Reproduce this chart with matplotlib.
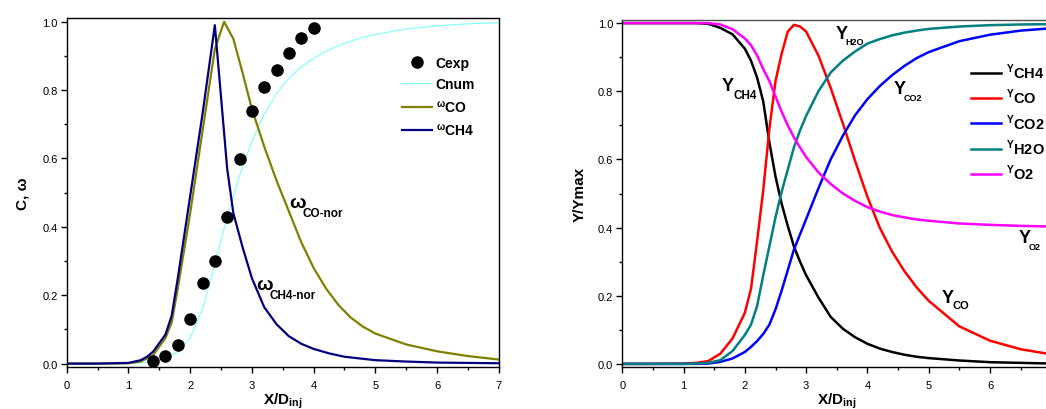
import matplotlib
matplotlib.use("Agg")
import matplotlib.pyplot as plt
from matplotlib.ticker import MultipleLocator, FormatStrFormatter

plt.rcParams['font.family'] = ['Liberation Sans', 'DejaVu Sans']

# ---- left panel: progress variable and normalised rates ----
x_cexp = [1.4, 1.6, 1.8, 2.0, 2.2, 2.4, 2.6, 2.8, 3.0, 3.2, 3.4, 3.6, 3.8, 4.0]
c_exp = [0.007, 0.022, 0.054, 0.131, 0.236, 0.300, 0.428, 0.599, 0.738, 0.810,
         0.859, 0.908, 0.952, 0.981]

x_cnum = [0, 0.5, 1.0, 1.2, 1.4, 1.6, 1.8, 2.0, 2.2, 2.4, 2.6, 2.8, 3.0, 3.2, 3.4,
          3.6, 3.8, 4.0, 4.25, 4.5, 4.75, 5.0, 5.5, 6.0, 6.5, 7.0]
c_num = [0, 0, 0.001, 0.002, 0.006, 0.015, 0.035, 0.075, 0.16, 0.29, 0.43, 0.55,
         0.65, 0.73, 0.79, 0.835, 0.868, 0.893, 0.918, 0.937, 0.952, 0.963, 0.979,
         0.988, 0.994, 0.997]

x_wco = [0, 0.5, 1.0, 1.2, 1.4, 1.5, 1.6, 1.7, 1.8, 1.9, 2.0, 2.1, 2.2, 2.3, 2.4,
         2.55, 2.7, 2.85, 3.0, 3.2, 3.4, 3.6, 3.8, 4.0, 4.2, 4.4, 4.6, 4.8, 5.0,
         5.5, 6.0, 6.5, 7.0]
w_co = [0, 0, 0.001, 0.006, 0.025, 0.05, 0.075, 0.12, 0.22, 0.33, 0.44, 0.56, 0.68,
        0.80, 0.92, 1.0, 0.95, 0.85, 0.745, 0.635, 0.535, 0.445, 0.355, 0.28, 0.22,
        0.172, 0.135, 0.108, 0.088, 0.056, 0.036, 0.022, 0.012]

x_wch4 = [0, 0.5, 1.0, 1.2, 1.3, 1.4, 1.5, 1.6, 1.7, 1.8, 1.9, 2.0, 2.1, 2.2, 2.3,
          2.4, 2.5, 2.6, 2.7, 2.85, 3.0, 3.2, 3.4, 3.6, 3.8, 4.0, 4.25, 4.5, 5.0,
          5.5, 6.0, 6.5, 7.0]
w_ch4 = [0, 0, 0.002, 0.01, 0.02, 0.035, 0.06, 0.085, 0.14, 0.25, 0.37, 0.49, 0.61,
         0.73, 0.86, 0.99, 0.78, 0.57, 0.44, 0.34, 0.25, 0.165, 0.115, 0.08, 0.058,
         0.043, 0.03, 0.02, 0.01, 0.006, 0.003, 0.002, 0.001]

# ---- right panel: normalised mass fractions ----
x_y = [0, 0.5, 1.0, 1.2, 1.4, 1.6, 1.8, 2.0, 2.1, 2.2, 2.3, 2.4, 2.5, 2.6, 2.7, 2.8,
       2.9, 3.0, 3.2, 3.4, 3.6, 3.8, 4.0, 4.2, 4.4, 4.6, 4.8, 5.0, 5.5, 6.0, 6.5, 7.0]
y_ch4 = [1.0, 1.0, 1.0, 1.0, 0.998, 0.986, 0.967, 0.925, 0.89, 0.84, 0.77, 0.65,
         0.55, 0.47, 0.405, 0.345, 0.30, 0.26, 0.195, 0.138, 0.103, 0.078, 0.059,
         0.045, 0.035, 0.027, 0.021, 0.017, 0.01, 0.005, 0.003, 0.001]
y_co = [0, 0, 0.001, 0.003, 0.008, 0.03, 0.075, 0.15, 0.22, 0.36, 0.51, 0.69, 0.83,
        0.91, 0.975, 0.995, 0.99, 0.975, 0.905, 0.81, 0.705, 0.595, 0.49, 0.40,
        0.33, 0.273, 0.225, 0.185, 0.11, 0.068, 0.043, 0.028]
y_co2 = [0, 0, 0, 0, 0.001, 0.006, 0.016, 0.035, 0.05, 0.067, 0.088, 0.115, 0.16,
         0.215, 0.275, 0.335, 0.38, 0.425, 0.515, 0.60, 0.67, 0.73, 0.777, 0.815,
         0.847, 0.874, 0.897, 0.915, 0.947, 0.966, 0.978, 0.985]
y_h2o = [0, 0, 0, 0.001, 0.003, 0.011, 0.038, 0.085, 0.115, 0.17, 0.26, 0.345, 0.43,
         0.505, 0.57, 0.635, 0.685, 0.728, 0.80, 0.855, 0.89, 0.917, 0.94, 0.953,
         0.964, 0.972, 0.978, 0.983, 0.99, 0.994, 0.996, 0.997]
y_o2 = [1.0, 1.0, 1.0, 1.0, 1.0, 0.996, 0.982, 0.955, 0.935, 0.905, 0.865, 0.83,
        0.785, 0.74, 0.70, 0.665, 0.635, 0.607, 0.562, 0.528, 0.50, 0.478, 0.46,
        0.447, 0.437, 0.43, 0.424, 0.42, 0.412, 0.408, 0.405, 0.403]


def sub_text(ax, x, y, main, sub, size_main, size_sub, dx, dy):
    # big letter with a smaller, lowered index next to it
    ax.text(x, y, main, fontsize=size_main, fontweight='bold', va='baseline')
    ax.annotate(sub, (x, y), xytext=(dx, dy), textcoords='offset points',
                fontsize=size_sub, fontweight='bold', va='baseline')


def style_axes(ax):
    ax.set_xlim(0, 7)
    ax.set_ylim(-0.01, 1.01)
    ax.xaxis.set_major_locator(MultipleLocator(1))
    ax.xaxis.set_minor_locator(MultipleLocator(0.5))
    ax.yaxis.set_major_locator(MultipleLocator(0.2))
    ax.yaxis.set_minor_locator(MultipleLocator(0.1))
    ax.yaxis.set_major_formatter(FormatStrFormatter('%.1f'))
    ax.tick_params(which='major', length=4, width=1, labelsize=8, pad=2.5)
    ax.tick_params(axis='x', which='major', pad=5)
    ax.tick_params(which='minor', length=2.5, width=1)
    for s in ax.spines.values():
        s.set_linewidth(1)


fig = plt.figure(figsize=(10.46, 4.10), dpi=100)

# left
ax1 = fig.add_axes([0.0638, 0.1024, 0.4130, 0.8505])
l_cnum, = ax1.plot(x_cnum, c_num, color='#80ffff', lw=0.8, label='Cnum')
l_co, = ax1.plot(x_wco, w_co, color='#808000', lw=1.6, label='$^{\\mathregular{ω}}$CO')
l_ch4, = ax1.plot(x_wch4, w_ch4, color='#000080', lw=1.6, label='$^{\\mathregular{ω}}$CH4')
l_exp, = ax1.plot(x_cexp, c_exp, 'o', color='black', ms=8, label='Cexp', zorder=5)
style_axes(ax1)
ax1.set_xlabel('X/D$_{\\mathregular{inj}}$', fontsize=11, fontweight='bold', labelpad=0.5)
ax1.set_ylabel('C, ω', fontsize=11, fontweight='bold', labelpad=9)
ax1.legend(handles=[l_exp, l_cnum, l_co, l_ch4], loc='upper left',
           bbox_to_anchor=(0.775, 0.893), frameon=False, borderpad=0, borderaxespad=0,
           handlelength=2.16, handletextpad=0.3, labelspacing=0.55,
           prop={'weight': 'bold', 'size': 10})
sub_text(ax1, 3.61, 0.457, 'ω', 'CO-nor', 14, 8.5, 9.4, -6)
sub_text(ax1, 3.07, 0.217, 'ω', 'CH4-nor', 14, 8.5, 9.6, -6.2)

# right
ax2 = fig.add_axes([0.5949, 0.1017, 0.4102, 0.8478])
ax2.plot(x_y, y_ch4, color='black', lw=1.8, label='$^{\\mathregular{Y}}$CH4')
ax2.plot(x_y, y_co, color='#ff0000', lw=1.8, label='$^{\\mathregular{Y}}$CO')
ax2.plot(x_y, y_co2, color='#0000ff', lw=1.8, label='$^{\\mathregular{Y}}$CO2')
ax2.plot(x_y, y_h2o, color='#008080', lw=1.8, label='$^{\\mathregular{Y}}$H2O')
ax2.plot(x_y, y_o2, color='#ff00ff', lw=1.8, label='$^{\\mathregular{Y}}$O2')
style_axes(ax2)
ax2.spines['top'].set_color('#505050')
ax2.set_xlabel('X/D$_{\\mathregular{inj}}$', fontsize=11, fontweight='bold', labelpad=0.5)
ax2.set_ylabel('Y/Ymax', fontsize=11, fontweight='bold', labelpad=8)
ax2.legend(loc='upper left', bbox_to_anchor=(0.812, 0.88), frameon=False,
           borderpad=0, borderaxespad=0, handlelength=2.1, handletextpad=0.3,
           labelspacing=0.42, prop={'weight': 'bold', 'size': 10.5})
sub_text(ax2, 1.62, 0.804, 'Y', 'CH4', 13, 8.5, 8.4, -6)
sub_text(ax2, 3.48, 0.955, 'Y', 'H2O', 13, 6.5, 7.4, -4.1)
sub_text(ax2, 4.43, 0.795, 'Y', 'CO2', 13, 6.5, 7.2, -4.8)
sub_text(ax2, 5.21, 0.181, 'Y', 'CO', 13, 8, 7.7, -4.1)
sub_text(ax2, 6.47, 0.357, 'Y', 'O2', 13, 6.5, 7.2, -4.8)

fig.savefig('out.png', dpi=100)
